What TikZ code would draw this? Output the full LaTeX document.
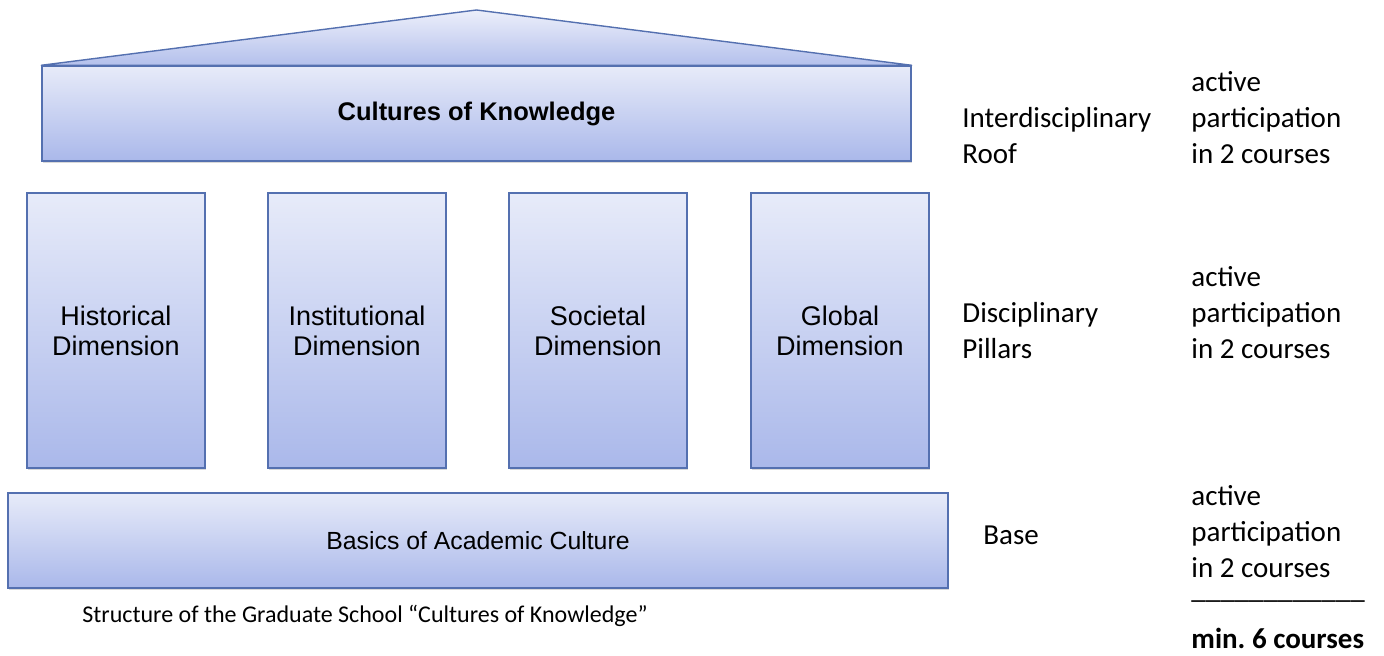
\documentclass[tikz,border=0pt]{standalone}
\usepackage{fontspec}
\setmainfont{Carlito}
\newfontfamily\boxfont{Liberation Sans}
\usetikzlibrary{shadows}
\definecolor{parttop}{RGB}{231,235,249}
\definecolor{partbottom}{RGB}{170,184,234}
\definecolor{gablebottom}{RGB}{180,192,236}
\definecolor{partline}{RGB}{84,112,176}

\begin{document}
\begin{tikzpicture}[x=0.5pt,y=-0.5pt,
  housepart/.style={draw=partline, line width=0.7pt, top color=parttop, bottom color=partbottom,
    drop shadow={shadow xshift=0.7pt, shadow yshift=-1.2pt, opacity=0.3},
    inner sep=0pt, align=center, font=\boxfont\fontsize{12.75}{15}\selectfont},
  pillar/.style={housepart, minimum width=89pt, minimum height=137.5pt,
    font=\boxfont\fontsize{13.5}{15}\selectfont},
  sidetext/.style={anchor=base west, inner sep=0pt, align=left, font=\fontsize{14.5}{18}\selectfont}]
\useasboundingbox (0,0) rectangle (1384,656);
\coordinate (apex) at (476.5,10);
\node[housepart, minimum width=434.5pt, minimum height=47.5pt] (roof) at (476.5,113.5) {\bfseries Cultures of Knowledge};
\filldraw[draw=partline, line width=0.7pt, line join=round, top color=parttop!80!white, bottom color=gablebottom]
  (roof.north west) -- (apex) -- (roof.north east) -- cycle;
\foreach \name/\x/\txt in {historical/116/Historical, institutional/357/Institutional, societal/598/Societal, global/840/Global}
  \node[pillar] (\name) at (\x,330.5) {\txt\\Dimension};
\node[housepart, minimum width=470pt, minimum height=47.5pt, font=\boxfont\fontsize{12.4}{15}\selectfont] (base) at (478,540.5) {Basics of Academic Culture};
\node[anchor=base west, inner sep=0pt, font=\fontsize{12}{14.4}\selectfont] (caption) at (82,622)
  {Structure of the Graduate School “Cultures of Knowledge”};
\node[sidetext] (roofname) at (962,164) {Interdisciplinary\\Roof};
\node[sidetext] (roofreq) at (1191,164) {active\\participation\\in 2 courses};
\node[sidetext] (pillarname) at (962,359) {Disciplinary\\Pillars};
\node[sidetext] (pillarreq) at (1191,359) {active\\participation\\in 2 courses};
\node[sidetext] (basename) at (983,545) {Base};
\node[sidetext] (basereq) at (1191,577) {active\\participation\\in 2 courses};
\node[sidetext] (rule) at (1191,598) {\_\_\_\_\_\_\_\_\_\_\_\_};
\node[sidetext, font=\bfseries\fontsize{14.5}{18}\selectfont] (total) at (1191,648) {min.\ 6 courses};
\end{tikzpicture}
\end{document}
